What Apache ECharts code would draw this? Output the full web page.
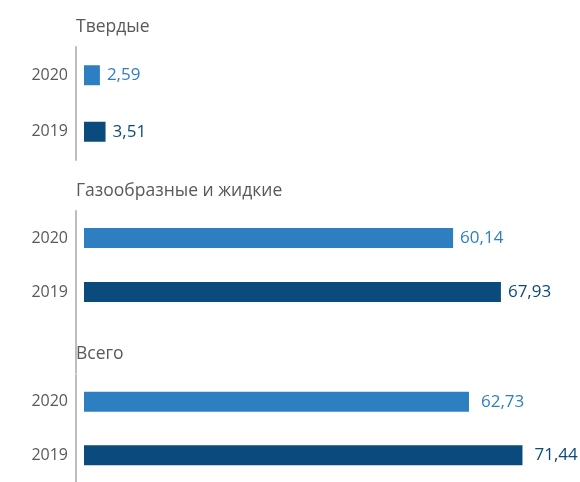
<!DOCTYPE html>
<html>
<head>
<meta charset="utf-8">
<script src="https://cdn.jsdelivr.net/npm/echarts@6/dist/echarts.min.js"></script>
<style>
  html, body { margin: 0; padding: 0; background: #fff; }
  #chart { width: 580px; height: 482px; }
</style>
</head>
<body>
<div id="chart"></div>
<script>
// Emissions by type, 2020 vs 2019
const years = ['2020', '2019'];
const groupTitles = ['Твердые', 'Газообразные и жидкие', 'Всего'];
const solid = [2.59, 3.51];
const gasLiquid = [60.14, 67.93];
const total = [62.73, 71.44];

const yearColors = ['#2E7FC2', '#0B4A7D'];
const textGray = '#595959';
const FONT = '"Open Sans", "Noto Sans", sans-serif';

// Layout of each block: grid top/height, category count, heading centre, label gap
const blocks = [
  { values: solid, top: 47, height: 113, slots: 2, head: 27, gap: 7 },
  { values: gasLiquid, top: 211, height: 162, slots: 3, head: 191, gap: 7 },
  { values: total, top: 375, height: 110, slots: 2, head: 354, gap: 12 }
];

const fmt = v => v.toFixed(2).replace('.', ',');

const grid = [], xAxis = [], yAxis = [], series = [], title = [];
blocks.forEach((b, i) => {
  grid.push({ left: 84, width: 491, top: b.top, height: b.height });
  xAxis.push({
    type: 'value', gridIndex: i, min: 0, max: 80, show: false
  });
  const cats = years.slice();
  while (cats.length < b.slots) cats.push('');
  yAxis.push({
    type: 'category', gridIndex: i, data: cats, inverse: true, offset: 8,
    axisLine: { show: true, onZero: false, lineStyle: { color: '#BDBDBD', width: 2 } },
    axisTick: { show: false },
    axisLabel: { color: textGray, fontSize: 16, fontFamily: FONT, margin: 8 }
  });
  series.push({
    type: 'bar', xAxisIndex: i, yAxisIndex: i, barWidth: 20,
    data: b.values.map((v, k) => ({
      value: v,
      itemStyle: { color: yearColors[k] },
      label: { color: yearColors[k] }
    })),
    label: {
      show: true, position: 'right', distance: b.gap,
      fontSize: 17, fontFamily: FONT, formatter: p => fmt(p.value)
    },
    animation: false
  });
  title.push({
    text: groupTitles[i], left: 76, top: b.head - 11, padding: 0,
    textStyle: { color: textGray, fontSize: 17.5, fontWeight: 'normal', fontFamily: FONT, lineHeight: 22 }
  });
});

const chart = echarts.init(document.getElementById('chart'), null, { renderer: 'canvas' });
chart.setOption({ animation: false, title, grid, xAxis, yAxis, series });
</script>
</body>
</html>
